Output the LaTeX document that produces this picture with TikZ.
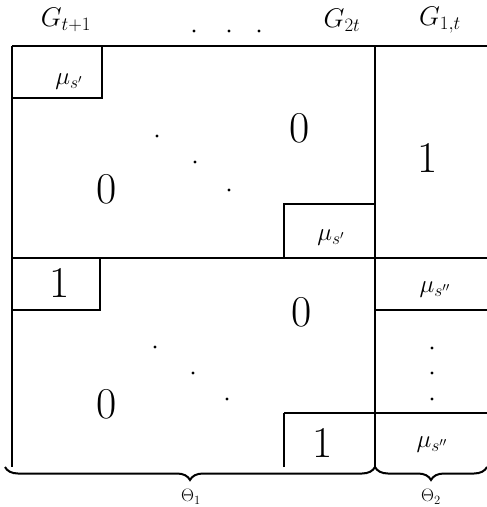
\RequirePackage{fix-cm}
\documentclass[tikz,border=0pt]{standalone}
\usetikzlibrary{decorations.pathreplacing}
\begin{document}
\begin{tikzpicture}[x=1pt,y=-1pt, line width=1.6pt,
  big/.style={font=\fontsize{44}{44}\selectfont, inner sep=0pt},
  lab/.style={font=\fontsize{27}{27}\selectfont, inner sep=0pt},
  mu/.style={font=\fontsize{25}{25}\selectfont, inner sep=0pt},
  th/.style={font=\fontsize{18}{18}\selectfont, inner sep=0pt},
  dotn/.style={circle, fill, inner sep=0pt, minimum size=3.4pt},
  brc/.style={decorate, decoration={brace, mirror, amplitude=13pt}, line width=2pt}]
\useasboundingbox (0,0) rectangle (487,507);
% frame lines
\draw (12,46) -- (487,46);
\draw (12,46) -- (12,467);
\draw (375,46) -- (375,467);
\draw (12,258) -- (487,258);
\draw (375,310) -- (487,310);
\draw (284,413) -- (487,413);
% small boxes
\draw (12,98) -| (102,46);
\draw (284,258) |- (375,204);
\draw (12,310) -| (100,258);
\draw (284,467) -- (284,413);
% header
\node[lab] (g1) at (66,20) {$G_{t+1}$};
\node[dotn] (hd1) at (194,31) {};
\node[dotn] (hd2) at (229,31) {};
\node[dotn] (hd3) at (259,31) {};
\node[lab] (g2) at (342,20) {$G_{2t}$};
\node[lab] (g3) at (440,20) {$G_{1,t}$};
% upper block
\node[mu] (m1) at (69,82) {$\mu_{s'}$};
\node[big] (z1) at (300,128) {0};
\node[dotn] (ud1) at (157,136) {};
\node[dotn] (ud2) at (195,162) {};
\node[dotn] (ud3) at (229,190) {};
\node[big] (z2) at (107,189) {0};
\node[mu] (m2) at (331,238) {$\mu_{s'}$};
\node[big] (o1) at (428,158) {1};
% lower block
\node[big] (o2) at (60,283) {1};
\node[big] (z3) at (302,312) {0};
\node[dotn] (ld1) at (155,347) {};
\node[dotn] (ld2) at (193,373) {};
\node[dotn] (ld3) at (227,399) {};
\node[big] (z4) at (107,404) {0};
\node[big] (o3) at (323,443) {1};
\node[mu] (m3) at (435,290) {$\mu_{s''}$};
\node[dotn] (rd1) at (432,348) {};
\node[dotn] (rd2) at (432,373) {};
\node[dotn] (rd3) at (432,399) {};
\node[mu] (m4) at (432,445) {$\mu_{s''}$};
% braces
\coordinate (b1s) at (5,467);
\coordinate (b1e) at (375,467);
\coordinate (b2e) at (487,467);
\draw[brc] (b1s) -- (b1e);
\draw[brc] (b1e) -- (b2e);
\node[th] (t1) at (191,497) {$\Theta_1$};
\node[th] (t2) at (431,497) {$\Theta_2$};
\end{tikzpicture}
\end{document}
